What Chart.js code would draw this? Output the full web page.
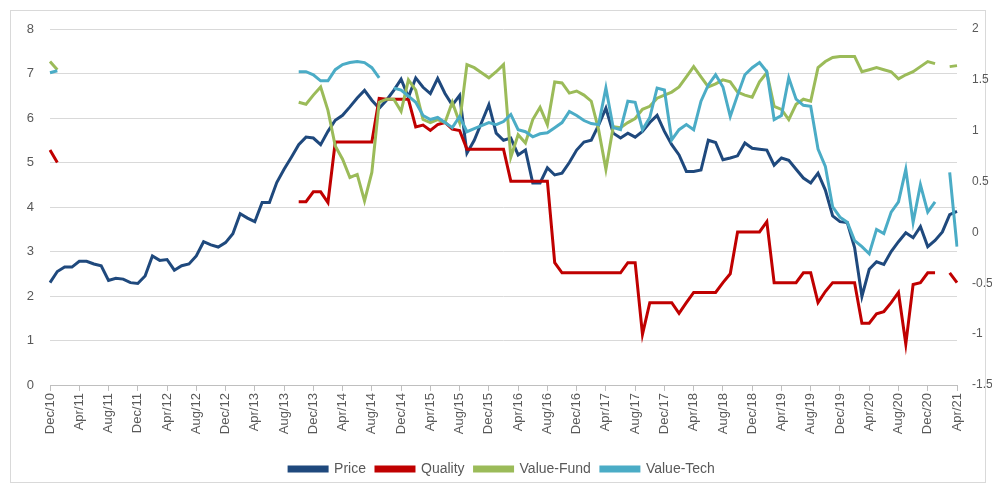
<!DOCTYPE html>
<html>
<head>
<meta charset="utf-8">
<script src="https://cdn.jsdelivr.net/npm/chart.js@4"></script>
<style>
html,body{margin:0;padding:0;background:#fff;}
#wrap{position:relative;width:992px;height:490px;}
</style>
</head>
<body>
<div id="wrap"><canvas id="c" width="992" height="490"></canvas></div>
<script>
// Category axis: monthly, Dec/10 .. Apr/21
const monthNames = ["Jan","Feb","Mar","Apr","May","Jun","Jul","Aug","Sep","Oct","Nov","Dec"];
const startYear = 2010, startMonth = 11, monthCount = 125;
const categories = [];
for (let k = 0; k < monthCount; k++) {
  const m = (startMonth + k) % 12;
  const y = startYear + Math.floor((startMonth + k) / 12);
  categories.push(monthNames[m] + "/" + String(y % 100).padStart(2, "0"));
}
const labelEvery = 4;

// Left axis (0..8)
const price = [
2.30,2.55,2.65,2.65,2.78,2.78,2.72,2.68,2.35,2.40,2.38,2.30,2.28,2.45,2.90,2.80,2.82,2.58,2.68,2.72,
2.90,3.22,3.15,3.10,3.20,3.40,3.85,3.75,3.67,4.10,4.10,4.55,4.85,5.12,5.40,5.57,5.55,5.40,5.70,5.95,
6.06,6.25,6.45,6.62,6.40,6.22,6.40,6.62,6.87,6.47,6.90,6.69,6.55,6.89,6.55,6.29,6.51,5.21,5.50,5.90,
6.30,5.66,5.50,5.55,5.17,5.28,4.54,4.54,4.88,4.72,4.76,5.00,5.28,5.46,5.50,5.84,6.22,5.66,5.55,5.66,
5.57,5.70,5.90,6.06,5.70,5.40,5.17,4.80,4.80,4.83,5.50,5.45,5.06,5.10,5.15,5.44,5.32,5.30,5.28,4.94,
5.10,5.05,4.85,4.65,4.54,4.76,4.38,3.80,3.67,3.65,3.09,1.99,2.60,2.77,2.71,3.00,3.22,3.42,3.31,3.56,
3.11,3.25,3.44,3.83,3.90];

const quality = [
5.28,5.00,null,null,null,null,null,null,null,null,null,null,null,null,null,null,null,null,null,null,
null,null,null,null,null,null,null,null,null,null,null,null,null,null,4.12,4.12,4.34,4.34,4.10,5.46,
5.46,5.46,5.46,5.46,5.46,6.44,6.42,6.42,6.42,6.42,5.80,5.84,5.72,5.85,5.90,5.75,5.72,5.30,5.30,5.30,
5.30,5.30,5.30,4.58,4.58,4.58,4.58,4.58,4.58,2.75,2.52,2.52,2.52,2.52,2.52,2.52,2.52,2.52,2.52,2.75,
2.75,1.14,1.85,1.85,1.85,1.85,1.61,1.85,2.08,2.08,2.08,2.08,2.30,2.50,3.44,3.44,3.44,3.44,3.67,2.30,
2.30,2.30,2.30,2.52,2.52,1.85,2.10,2.30,2.30,2.30,2.30,1.39,1.39,1.60,1.65,1.85,2.08,0.92,2.26,2.30,
2.52,2.52,null,2.52,2.30];

// Right axis (-1.5..2)
const valueFund = [
1.68,1.60,null,null,null,null,null,null,null,null,null,null,null,null,null,null,null,null,null,null,
null,null,null,null,null,null,null,null,null,null,null,null,null,null,1.28,1.26,1.35,1.43,1.20,0.85,
0.72,0.54,0.57,0.31,0.59,1.28,1.31,1.31,1.19,1.50,1.40,1.11,1.08,1.11,1.08,1.28,1.08,1.65,1.62,1.57,
1.52,1.58,1.65,0.74,0.96,0.88,1.11,1.23,1.06,1.48,1.47,1.37,1.39,1.35,1.29,1.01,0.62,1.04,1.03,1.08,
1.12,1.21,1.24,1.32,1.35,1.38,1.43,1.53,1.63,1.53,1.43,1.46,1.50,1.48,1.38,1.35,1.33,1.48,1.57,1.24,
1.21,1.11,1.26,1.31,1.29,1.62,1.68,1.72,1.73,1.73,1.73,1.58,1.60,1.62,1.60,1.58,1.51,1.55,1.58,1.63,
1.68,1.66,null,1.63,1.64];

const valueTech = [
1.57,1.59,null,null,null,null,null,null,null,null,null,null,null,null,null,null,null,null,null,null,
null,null,null,null,null,null,null,null,null,null,null,null,null,null,1.58,1.58,1.55,1.49,1.49,1.60,
1.65,1.67,1.68,1.67,1.62,1.52,null,1.42,1.40,1.34,1.28,1.15,1.11,1.13,1.08,1.03,1.14,0.99,1.02,1.05,
1.08,1.06,1.09,1.16,1.01,0.99,0.94,0.97,0.98,1.03,1.08,1.19,1.15,1.10,1.07,1.06,1.42,1.03,1.01,1.29,
1.28,1.01,1.13,1.42,1.40,0.91,1.01,1.06,1.01,1.29,1.45,1.55,1.43,1.14,1.35,1.55,1.62,1.67,1.58,1.11,
1.15,1.52,1.31,1.25,1.24,0.82,0.65,0.25,0.15,0.10,-0.08,-0.14,-0.21,0.03,-0.01,0.20,0.30,0.62,0.10,0.47,
0.20,0.30,null,0.59,-0.14];

const leftTicks = [0,1,2,3,4,5,6,7,8];
const rightTicks = [-1.5,-1,-0.5,0,0.5,1,1.5,2];

const seriesNames = ["Price","Quality","Value-Fund","Value-Tech"];
const seriesColors = ["#1F497D","#C00000","#9BBB59","#4BACC6"];

const txt = "#595959";
const font = "'Liberation Sans', Arial, sans-serif";

const framePlugin = {
  id: "frame",
  beforeDraw(chart) {
    const ctx = chart.ctx;
    ctx.save();
    ctx.fillStyle = "#fff";
    ctx.fillRect(0, 0, chart.width, chart.height);
    ctx.strokeStyle = "#d9d9d9";
    ctx.lineWidth = 1;
    ctx.strokeRect(10.5, 10.5, 975, 472);
    ctx.restore();
  }
};

function mk(i, data, axis) {
  return {
    label: seriesNames[i],
    data: data,
    yAxisID: axis,
    order: seriesNames.length - 1 - i,
    borderColor: seriesColors[i],
    backgroundColor: seriesColors[i],
    borderWidth: 3,
    pointRadius: 0,
    tension: 0,
    spanGaps: false,
    fill: false
  };
}

new Chart(document.getElementById("c"), {
  type: "line",
  data: {
    labels: categories,
    datasets: [
      mk(0, price, "y"),
      mk(1, quality, "y"),
      mk(2, valueFund, "y1"),
      mk(3, valueTech, "y1")
    ]
  },
  options: {
    responsive: false,
    animation: false,
    devicePixelRatio: 1,
    layout: { padding: { top: 29, bottom: 4, left: 12, right: 0 } },
    plugins: {
      legend: {
        position: "bottom",
        labels: {
          boxWidth: 38,
          boxHeight: 4,
          padding: 10,
          color: txt,
          font: { family: font, size: 14 },
          sort: (a, b) => a.datasetIndex - b.datasetIndex
        }
      },
      tooltip: { enabled: false }
    },
    scales: {
      x: {
        type: "category",
        offset: false,
        grid: { drawOnChartArea: false, drawTicks: true, tickLength: 6, color: "#bfbfbf" },
        border: { display: true, color: "#bfbfbf" },
        ticks: {
          autoSkip: false,
          minRotation: 90,
          maxRotation: 90,
          padding: 2,
          color: txt,
          font: { family: font, size: 13 },
          callback: function (v, i) { return i % labelEvery === 0 ? categories[i] : null; }
        },
        afterFit: function (s) { s.height = 67; }
      },
      y: {
        position: "left",
        min: 0, max: 8,
        afterBuildTicks: function (s) { s.ticks = leftTicks.map(v => ({ value: v })); },
        grid: { color: "#d9d9d9", lineWidth: 1, drawTicks: false },
        border: { display: false },
        ticks: { padding: 16, color: txt, font: { family: font, size: 13 } },
        afterFit: function (s) { s.width = 38; }
      },
      y1: {
        position: "right",
        min: -1.5, max: 2,
        afterBuildTicks: function (s) { s.ticks = rightTicks.map(v => ({ value: v })); },
        grid: { drawOnChartArea: false, drawTicks: false },
        border: { display: false },
        ticks: {
          padding: 15, color: txt, font: { family: font, size: 12 },
          callback: function (v) { return String(v); }
        },
        afterFit: function (s) { s.width = 35; }
      }
    }
  },
  plugins: [framePlugin]
});
</script>
</body>
</html>
